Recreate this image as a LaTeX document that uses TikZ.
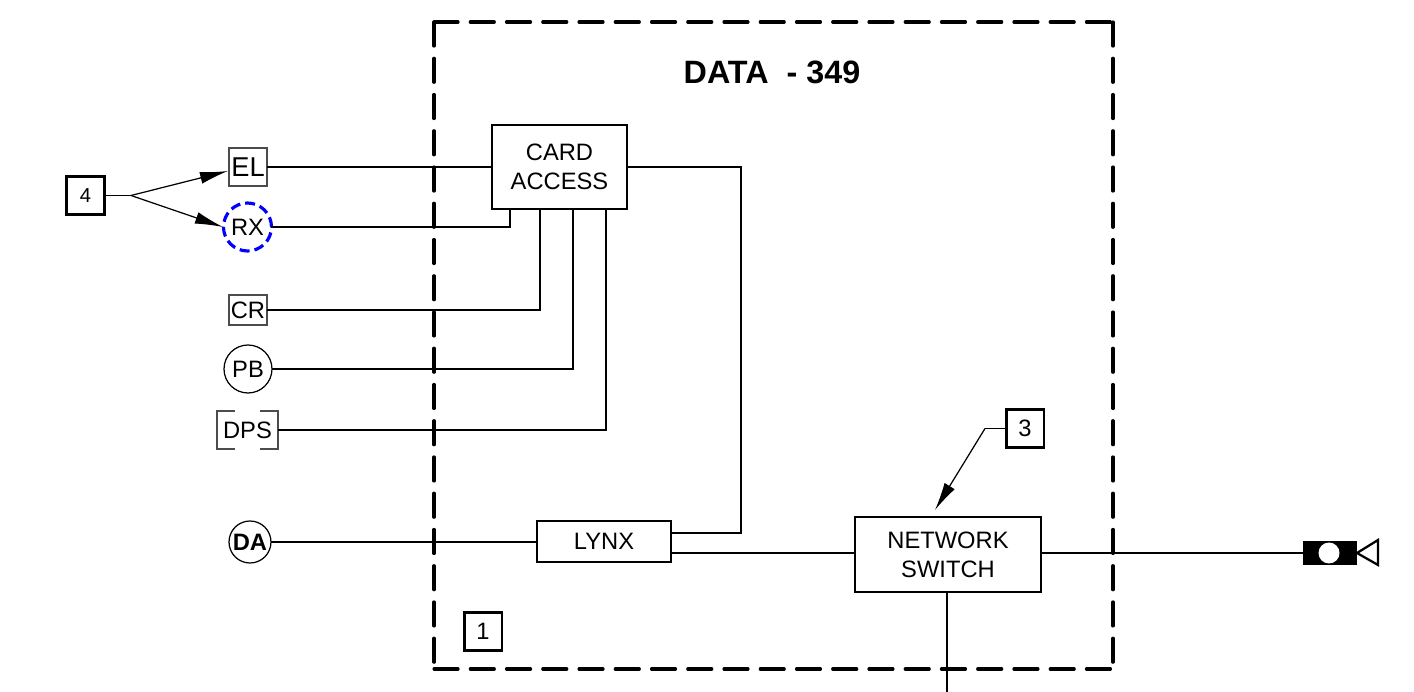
\documentclass[tikz,border=0pt]{standalone}
\usepackage{fontspec}
\setmainfont{Liberation Sans}
\usetikzlibrary{arrows.meta}
\tikzset{
  box/.style={draw, line width=1.3pt, inner sep=0pt, outer sep=0pt, align=center, font=\fontsize{13.5}{16.5}\selectfont},
  tag/.style={box, line width=1.7pt, minimum size=0.76cm, font=\fontsize{13.5}{16}\selectfont},
  device/.style={line width=0.7pt, inner sep=0pt, outer sep=0pt, font=\fontsize{13.5}{16}\selectfont},
  round device/.style={device, draw=black, circle, minimum size=0.96cm},
  frameline/.style={line width=1.8pt, line cap=round, dash pattern=on 0.48cm off 0.245cm},
  wire/.style={line width=1.3pt},
  leader/.style={line width=0.7pt},
  pointer/.style={leader, -{Latex[length=0.56cm,width=0.24cm]}},
}
\begin{document}
\begin{tikzpicture}[x=0.02cm,y=-0.02cm]
\useasboundingbox (0,0) rectangle (1414,692);
% cabinet
\node[inner sep=0pt, outer sep=0pt, minimum width=13.58cm, minimum height=12.94cm] (cabinet) at (773.5,345.5) {};
\draw[frameline] (cabinet.north west) -- (cabinet.north east);
\draw[frameline] (cabinet.north west) -- (cabinet.south west);
\draw[frameline] (cabinet.north east) -- (cabinet.south east);
\draw[frameline] (cabinet.south west) -- (cabinet.south east);
\node[font=\fontsize{18.4}{22}\bfseries\selectfont] (title) at (772,72) {DATA\ \ - 349};
% boxes
\node[box, minimum width=2.7cm, minimum height=1.68cm] (card) at (559.5,167) {CARD\\ACCESS};
\node[box, minimum width=2.68cm, minimum height=0.82cm] (lynx) at (604,541.5) {LYNX};
\node[box, minimum width=3.72cm, minimum height=1.5cm] (switch) at (948,554.5) {NETWORK\\SWITCH};
\node[tag] (tagone) at (483,631.5) {1};
\node[tag] (tagthree) at (1025,428.5) {3};
\node[tag, font=\fontsize{11.5}{14}\selectfont] (tagfour) at (85.5,195.5) {4};
% devices
\node[device, draw=black!70, minimum size=0.76cm, font=\fontsize{15.5}{18}\selectfont] (el) at (248,167) {EL};
\node[round device, draw=blue, line width=1.8pt, dash pattern=on 0.2cm off 0.1cm] (rx) at (247.5,227) {RX};
\node[device, draw=black!70, minimum width=0.76cm, minimum height=0.6cm] (cr) at (248,310) {CR};
\node[round device] (pb) at (248,369) {PB};
\node[device, minimum width=1.22cm, minimum height=0.76cm] (dps) at (247.5,430) {DPS};
\draw[device, draw=black!70] ([xshift=0.36cm]dps.north west) -- (dps.north west) -- (dps.south west) -- ([xshift=0.36cm]dps.south west);
\draw[device, draw=black!70] ([xshift=-0.36cm]dps.north east) -- (dps.north east) -- (dps.south east) -- ([xshift=-0.36cm]dps.south east);
\node[round device, minimum size=0.84cm, font=\fontsize{13.5}{16}\bfseries\selectfont] (da) at (250,542) {DA};
% outlet
\node[fill=black, inner sep=0pt, outer sep=0pt, minimum width=1.08cm, minimum height=0.5cm] (jack) at (1330,553) {};
\node[circle, fill=white, inner sep=0pt, minimum size=0.42cm] (jackhole) at (1329,553) {};
\coordinate (jackup) at (1378,540);
\coordinate (jackdown) at (1378,565);
\draw[line width=1.3pt, line join=miter] (jack.east) -- (jackup) -- (jackdown) -- cycle;
% wires
\coordinate (cardA) at (510,209);
\coordinate (cardB) at (540,209);
\coordinate (cardC) at (573,209);
\coordinate (cardD) at (606,209);
\coordinate (lynxup) at (671,533);
\coordinate (lynxdown) at (671,553);
\coordinate (switchwest) at (855,553);
\coordinate (switcheast) at (1041,553);
\coordinate (riserbottom) at (947,692);
\coordinate (riser) at (947,592);
\draw[wire] (el.east) -- (el.east -| card.west);
\draw[wire] (rx.east) -| (cardA);
\draw[wire] (cr.east) -| (cardB);
\draw[wire] (pb.east) -| (cardC);
\draw[wire] (dps.east) -| (cardD);
\draw[wire] (da.east) -- (da.east -| lynx.west);
\draw[wire] (card.east) -- (741,167) |- (lynxup);
\draw[wire] (lynxdown) -- (switchwest);
\draw[wire] (switcheast) -- (jack.west |- switcheast);
\draw[wire] (riser) -- (riserbottom);
% notes
\coordinate (fourfork) at (131,195.5);
\coordinate (threeknee) at (985,428.5);
\coordinate (threetip) at (935,510);
\draw[leader] (tagfour.east) -- (fourfork);
\draw[pointer] (fourfork) -- (228,171);
\draw[pointer] (fourfork) -- (223,227);
\draw[leader] (tagthree.west) -- (threeknee);
\draw[pointer] (threeknee) -- (threetip);
\end{tikzpicture}
\end{document}
